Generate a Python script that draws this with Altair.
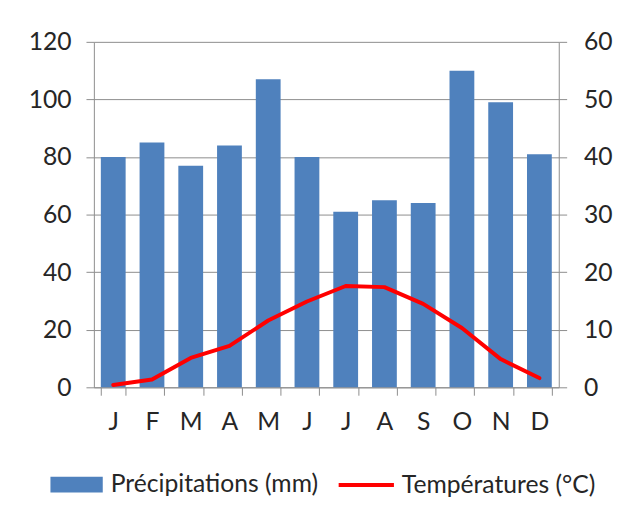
import altair as alt
import pandas as pd

months = ["janvier", "février", "mars", "avril", "mai", "juin",
          "juillet", "août", "septembre", "octobre", "novembre", "décembre"]
precip = [80, 85, 77, 84, 107, 80, 61, 65, 64, 110, 99, 81]
temps = [0.4, 1.35, 5.1, 7.2, 11.6, 14.9, 17.6, 17.4, 14.5, 10.3, 4.9, 1.6]
precip_ticks = [0, 20, 40, 60, 80, 100, 120]
temp_ticks = [0, 10, 20, 30, 40, 50, 60]
precip_name = "Précipitations (mm)"
temp_name = "Températures (°C)"

BLUE = "#4F81BD"
RED = "#FF0000"
GRAY = "#8C8C8C"
TXT = "#262626"
FONT = "Lato"

df = pd.DataFrame({
    "mois": months,
    "precip": precip,
    "temp": temps,
    "p_label": precip_name,
    "t_label": temp_name,
})

x_enc = alt.X(
    "mois:N", sort=months,
    scale=alt.Scale(paddingInner=0.36, paddingOuter=0.18),
    axis=alt.Axis(title=None, labelExpr="upper(substring(datum.label,0,1))",
                  labelAngle=0, tickBand="extent", tickSize=8, labelPadding=15,
                  domainColor=GRAY, tickColor=GRAY, labelFont=FONT,
                  labelFontSize=25, labelColor=TXT, grid=False),
)

bars = alt.Chart(df).mark_bar(color=BLUE).encode(
    x=x_enc,
    y=alt.Y("precip:Q", scale=alt.Scale(domain=[0, 120], nice=False),
            axis=alt.Axis(title=None, orient="left", values=precip_ticks,
                          grid=True, gridColor=GRAY, gridOpacity=1,
                          domainColor=GRAY, tickColor=GRAY, tickSize=8,
                          labelPadding=15, labelFont=FONT, labelFontSize=25,
                          labelColor=TXT)),
    fill=alt.Fill("p_label:N", scale=alt.Scale(domain=[precip_name], range=[BLUE]),
                  legend=alt.Legend(title=None, orient="none", legendX=-44, legendY=422,
                                    symbolType="M-1,-0.3H1V0.3H-1Z", symbolSize=2809,
                                    symbolStrokeWidth=0, labelFont=FONT, labelFontSize=25,
                                    labelColor=TXT, labelOffset=8, padding=0,
                                    labelLimit=400)),
)

line = alt.Chart(df).mark_line(strokeWidth=4, strokeJoin="round", strokeCap="round").encode(
    x=x_enc,
    y=alt.Y("temp:Q", scale=alt.Scale(domain=[0, 60], nice=False),
            axis=alt.Axis(title=None, orient="right", values=temp_ticks,
                          grid=False, domainColor=GRAY, tickColor=GRAY, tickSize=8,
                          labelPadding=17, labelFont=FONT, labelFontSize=25,
                          labelColor=TXT)),
    stroke=alt.Stroke("t_label:N", scale=alt.Scale(domain=[temp_name], range=[RED]),
                      legend=alt.Legend(title=None, orient="none", legendX=246, legendY=419,
                                        symbolType="stroke", symbolSize=3136,
                                        symbolStrokeWidth=4, labelFont=FONT, labelFontSize=25,
                                        labelColor=TXT, labelOffset=6, padding=0,
                                        labelLimit=400)),
)

chart = alt.layer(bars, line).resolve_scale(y="independent").properties(
    width=471, height=350,
    padding={"left": 87, "top": 31, "right": 59, "bottom": 121},
    autosize=alt.AutoSizeParams(type="none"),
    background="white",
).configure_view(stroke=None)

chart.save("out.html", embed_options={"renderer": "svg", "actions": False})
